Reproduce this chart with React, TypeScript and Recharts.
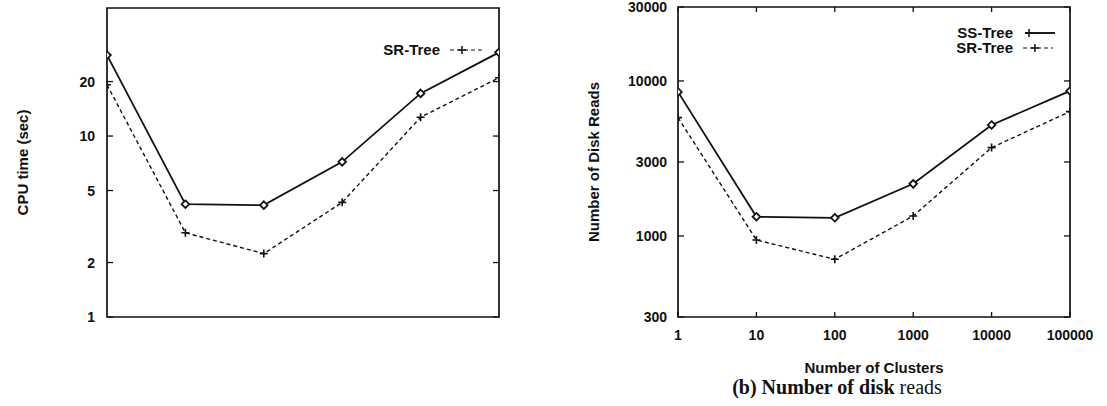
import React from 'react';
import { LineChart, Line, XAxis, YAxis, ReferenceArea, Legend, Label } from 'recharts';

// ---- data ----
const clusters = [1, 10, 100, 1000, 10000, 100000];
const cpuSS = [28, 4.2, 4.15, 7.2, 17.2, 29];
const cpuSR = [19.2, 2.92, 2.24, 4.3, 12.7, 21];
const diskSS = [8500, 1330, 1310, 2170, 5200, 8620];
const diskSR = [5800, 942, 707, 1346, 3715, 6345];
const cpuTicks = [1, 2, 5, 10, 20];
const diskTicks = [300, 1000, 3000, 10000, 30000];
const clusterTicks = [1, 10, 100, 1000, 10000, 100000];
const seriesNames = ['SS-Tree', 'SR-Tree'];

const cpuData = clusters.map((c, i) => ({ clusters: c, ss: cpuSS[i], sr: cpuSR[i] }));
const diskData = clusters.map((c, i) => ({ clusters: c, ss: diskSS[i], sr: diskSR[i] }));

const SANS = '"Liberation Sans", Arial, Helvetica, sans-serif';
const SERIF = '"Liberation Serif", "Times New Roman", serif';
const INK = '#111';

const ssDot = (p: any) => {
  const { cx, cy, index } = p;
  const r = 3.8;
  return (
    <path
      key={`ss-${index}`}
      d={`M${cx},${cy - r}L${cx + r},${cy}L${cx},${cy + r}L${cx - r},${cy}Z`}
      fill="#fff"
      stroke={INK}
      strokeWidth={1.8}
    />
  );
};

const srDot = (p: any) => {
  const { cx, cy, index } = p;
  const r = 4;
  return (
    <path
      key={`sr-${index}`}
      d={`M${cx - r},${cy}H${cx + r}M${cx},${cy - r}V${cy + r}`}
      stroke={INK}
      strokeWidth={1.6}
      fill="none"
    />
  );
};

const makeYTick = (margin: number, plotW: number, len: number) => (p: any) => {
  const { x, y, payload } = p;
  const ax = x + margin;
  return (
    <g>
      <text x={x} y={y} dy="0.36em" textAnchor="end" fontFamily={SANS} fontWeight="bold" fontSize={14} fill={INK}>
        {String(payload.value)}
      </text>
      <line x1={ax} x2={ax + len} y1={y} y2={y} stroke={INK} strokeWidth={1.3} />
      <line x1={ax + plotW - len} x2={ax + plotW} y1={y} y2={y} stroke={INK} strokeWidth={1.3} />
    </g>
  );
};

const makeXTick = (margin: number, plotH: number, len: number) => (p: any) => {
  const { x, y, payload } = p;
  const ay = y - margin;
  return (
    <g>
      <text x={x} y={y} dy="0.71em" textAnchor="middle" fontFamily={SANS} fontWeight="bold" fontSize={14} fill={INK}>
        {String(payload.value)}
      </text>
      <line x1={x} x2={x} y1={ay} y2={ay - len} stroke={INK} strokeWidth={1.3} />
      <line x1={x} x2={x} y1={ay - plotH} y2={ay - plotH + len} stroke={INK} strokeWidth={1.3} />
    </g>
  );
};

const yTitle = (text: string, dxFromAxisStart: number) => (p: any) => {
  const vb = p.viewBox || {};
  const cx = (vb.x || 0) + dxFromAxisStart;
  const cy = (vb.y || 0) + (vb.height || 0) / 2;
  return (
    <text
      x={cx}
      y={cy}
      transform={`rotate(-90, ${cx}, ${cy})`}
      textAnchor="middle"
      dominantBaseline="central"
      fontFamily={SANS}
      fontWeight="bold"
      fontSize={15}
      fill={INK}
    >
      {text}
    </text>
  );
};

const xTitle = (text: string, baselineFromAxisTop: number) => (p: any) => {
  const vb = p.viewBox || {};
  const cx = (vb.x || 0) + (vb.width || 0) / 2;
  const by = (vb.y || 0) + baselineFromAxisTop;
  return (
    <text x={cx} y={by} textAnchor="middle" fontFamily={SANS} fontWeight="bold" fontSize={15} fill={INK}>
      {text}
    </text>
  );
};

const LegendSample = ({ dashed, plusAt, x1, x2, y }: any) => (
  <g>
    <line x1={x1} x2={x2} y1={y} y2={y} stroke={INK} strokeWidth={dashed ? 1.2 : 1.9} strokeDasharray={dashed ? '4 3' : undefined} />
    <path d={`M${plusAt - 4},${y}H${plusAt + 4}M${plusAt},${y - 4}V${y + 4}`} stroke={INK} strokeWidth={1.5} />
  </g>
);

const leftLegend = () => (
  <svg width={140} height={24} style={{ display: 'block', overflow: 'visible' }}>
    <text x={80} y={15} textAnchor="end" fontFamily={SANS} fontWeight="bold" fontSize={15} fill={INK}>
      {seriesNames[1]}
    </text>
    <LegendSample dashed x1={90} x2={122} y={10} plusAt={102} />
  </svg>
);

const rightLegend = () => (
  <svg width={140} height={40} style={{ display: 'block', overflow: 'visible' }}>
    <text x={80} y={13} textAnchor="end" fontFamily={SANS} fontWeight="bold" fontSize={15} fill={INK}>
      {seriesNames[0]}
    </text>
    <LegendSample x1={92} x2={122} y={8} plusAt={96} />
    <text x={80} y={28} textAnchor="end" fontFamily={SANS} fontWeight="bold" fontSize={15} fill={INK}>
      {seriesNames[1]}
    </text>
    <LegendSample dashed x1={90} x2={120} y={23} plusAt={102} />
  </svg>
);

export default function App() {
  return (
    <div style={{ position: 'absolute', left: 0, top: 0, width: 1107, height: 406, background: '#fff', overflow: 'hidden' }}>
      {/* Left panel: CPU time */}
      <div style={{ position: 'absolute', left: 0, top: 0 }}>
        <LineChart width={520} height={330} data={cpuData} margin={{ top: 8, right: 21, bottom: 13, left: 0 }}>
          <XAxis dataKey="clusters" type="number" scale="log" domain={[1, 100000]} ticks={clusterTicks} hide allowDataOverflow />
          <YAxis
            type="number"
            scale="log"
            domain={[1, 51]}
            ticks={cpuTicks}
            interval={0}
            width={107}
            axisLine={false}
            tickLine={false}
            tickSize={0}
            tickMargin={12}
            tick={makeYTick(12, 392, 6)}
            allowDataOverflow
          >
            <Label content={yTitle('CPU time (sec)', 22)} />
          </YAxis>
          <ReferenceArea x1={1} x2={100000} y1={1} y2={51} fill="none" stroke={INK} strokeWidth={1.7} ifOverflow="visible" />
          <Line type="linear" dataKey="ss" name={seriesNames[0]} stroke={INK} strokeWidth={1.8} dot={ssDot} isAnimationActive={false} />
          <Line type="linear" dataKey="sr" name={seriesNames[1]} stroke={INK} strokeWidth={1.4} strokeDasharray="4 3" dot={srDot} isAnimationActive={false} />
          <Legend layout="horizontal" verticalAlign="middle" align="center" content={leftLegend} wrapperStyle={{ position: 'absolute', left: 360, top: 40, width: 140, height: 24 }} />
        </LineChart>
      </div>

      {/* Right panel: disk reads */}
      <div style={{ position: 'absolute', left: 560, top: 0 }}>
        <LineChart width={547} height={406} data={diskData} margin={{ top: 7, right: 37, bottom: 29, left: 0 }}>
          <XAxis
            dataKey="clusters"
            type="number"
            scale="log"
            domain={[1, 100000]}
            ticks={clusterTicks}
            interval={0}
            height={60}
            axisLine={false}
            tickLine={false}
            tickSize={0}
            tickMargin={13}
            tick={makeXTick(13, 310, 5)}
            allowDataOverflow
          >
            <Label content={xTitle('Number of Clusters', 56)} />
          </XAxis>
          <YAxis
            type="number"
            scale="log"
            domain={[300, 30000]}
            ticks={diskTicks}
            interval={0}
            width={118}
            axisLine={false}
            tickLine={false}
            tickSize={0}
            tickMargin={11}
            tick={makeYTick(11, 392, 6)}
            allowDataOverflow
          >
            <Label content={yTitle('Number of Disk Reads', 33)} />
          </YAxis>
          <ReferenceArea x1={1} x2={100000} y1={300} y2={30000} fill="none" stroke={INK} strokeWidth={1.7} ifOverflow="visible" />
          <Line type="linear" dataKey="ss" name={seriesNames[0]} stroke={INK} strokeWidth={1.8} dot={ssDot} isAnimationActive={false} />
          <Line type="linear" dataKey="sr" name={seriesNames[1]} stroke={INK} strokeWidth={1.4} strokeDasharray="4 3" dot={srDot} isAnimationActive={false} />
          <Legend layout="horizontal" verticalAlign="middle" align="center" content={rightLegend} wrapperStyle={{ position: 'absolute', left: 373, top: 25, width: 140, height: 40 }} />
        </LineChart>
      </div>

      {/* Caption */}
      <div
        style={{
          position: 'absolute',
          left: 637,
          top: 375,
          width: 400,
          textAlign: 'center',
          fontFamily: SERIF,
          fontSize: 20,
          lineHeight: '24px',
          color: INK,
          whiteSpace: 'nowrap',
        }}
      >
        <b>(b) Number of disk</b> reads
      </div>
    </div>
  );
}
